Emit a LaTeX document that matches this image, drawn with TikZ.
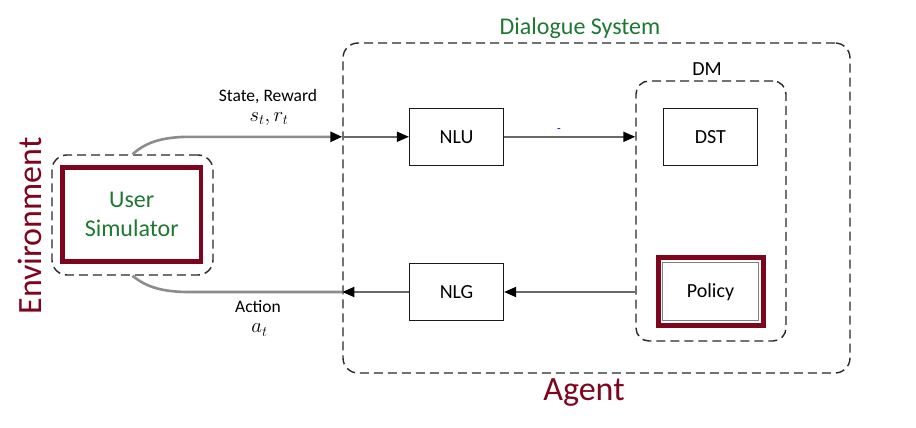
\documentclass[tikz,border=0pt]{standalone}
\usepackage{fontspec}
\setmainfont{Carlito}
\usetikzlibrary{arrows.meta,calc}
\definecolor{maroon}{RGB}{125,5,30}
\definecolor{dgreen}{RGB}{30,120,50}
\definecolor{lgray}{RGB}{140,140,140}
\definecolor{dgray}{RGB}{105,105,105}
\definecolor{dashcol}{RGB}{40,40,40}
\begin{document}
\begin{tikzpicture}[x=1pt,y=-1pt,
  dashbox/.style={draw=dashcol,line width=1.4pt,dash pattern=on 9pt off 5pt,rounded corners=15pt,inner sep=0pt},
  plainbox/.style={draw=black!90,line width=1.2pt,inner sep=0pt,minimum width=94pt,minimum height=57pt,font=\fontsize{20}{24}\selectfont},
  redframe/.style={draw=maroon,line width=4.8pt,inner sep=0pt},
  tip/.style={-{Triangle[length=12pt,width=10pt,color=black]}},
  inarrow/.style={draw=dgray,line width=1.8pt,tip},
  outline/.style={draw=lgray,line width=2.6pt},
  lbl/.style={font=\fontsize{17.5}{21}\selectfont,inner sep=0pt},
  mlbl/.style={font=\fontsize{20}{24}\selectfont,inner sep=0pt},
  big/.style={text=maroon,font=\fontsize{34}{40}\selectfont,inner sep=0pt}
]
\useasboundingbox (0,0) rectangle (916,428);

% containers
\node[dashbox,minimum width=507pt,minimum height=330pt] (ds) at (596.5,208) {};
\node[dashbox,rounded corners=13pt,minimum width=150pt,minimum height=260pt] (dm) at (711,211) {};
\node[dashbox,minimum width=161pt,minimum height=120pt] (envbox) at (132.5,215) {};

% user simulator
\node[redframe,minimum width=138.5pt,minimum height=94pt,text=dgreen,align=center,font=\fontsize{24}{30}\selectfont] (usim) at (131.75,214.5) {User\\[-1pt]Simulator};

% modules
\node[plainbox] (nlu) at (456.5,136.8) {NLU};
\node[plainbox] (nlg) at (456.5,292) {NLG};
\node[plainbox] (dst) at (710.3,136.8) {DST};
\node[redframe,minimum width=105pt,minimum height=68pt] (polframe) at (710.8,291.3) {};
\node[draw=gray,line width=1.5pt,minimum width=95.6pt,minimum height=58pt,inner sep=0pt,font=\fontsize{20}{24}\selectfont] (policy) at (710.5,291.7) {Policy};

% titles
\node[text=dgreen,font=\fontsize{24}{28}\selectfont,inner sep=0pt] (dstitle) at (580,28) {Dialogue System};
\node[font=\fontsize{20}{24}\selectfont,inner sep=0pt] (dmtitle) at (707,69) {DM};
\node[big] (agent) at (584,393) {Agent};
\node[big,rotate=90] (env) at (30,226) {Environment};

% edge labels
\node[lbl] (sr) at (268,97) {State, Reward};
\node[mlbl] (srm) at (269,119) {$s_t,r_t$};
\node[lbl] (act) at (258,307) {Action};
\node[mlbl] (actm) at (259.5,330) {$a_t$};
\node[text=blue!70!black,font=\fontsize{12}{14}\selectfont,inner sep=0pt] (tick) at (559,131) {-};

% coordinates on the boundaries
\coordinate (inpt) at (ds.west |- nlu.west);
\coordinate (outpt) at (ds.west |- nlg.west);
\coordinate (dmin) at (dm.west |- nlu.west);
\coordinate (dmout) at (dm.west |- nlg.west);
\coordinate (topbend) at ($(inpt)+(-153,0)$);
\coordinate (botbend) at ($(outpt)+(-153,0)$);

% environment links
\draw[outline] (envbox.south) .. controls (147,288) and (165,292) .. (botbend) -- (outpt);
\draw[outline,tip] (envbox.north) .. controls (147,141) and (165,137) .. (topbend) -- (inpt);

% agent links
\draw[inarrow] (inpt) -- (nlu.west);
\draw[inarrow] (nlu.east) -- (dmin);
\draw[inarrow] (dmout) -- (nlg.east);
\draw[inarrow] (nlg.west) -- (outpt);
\end{tikzpicture}
\end{document}
